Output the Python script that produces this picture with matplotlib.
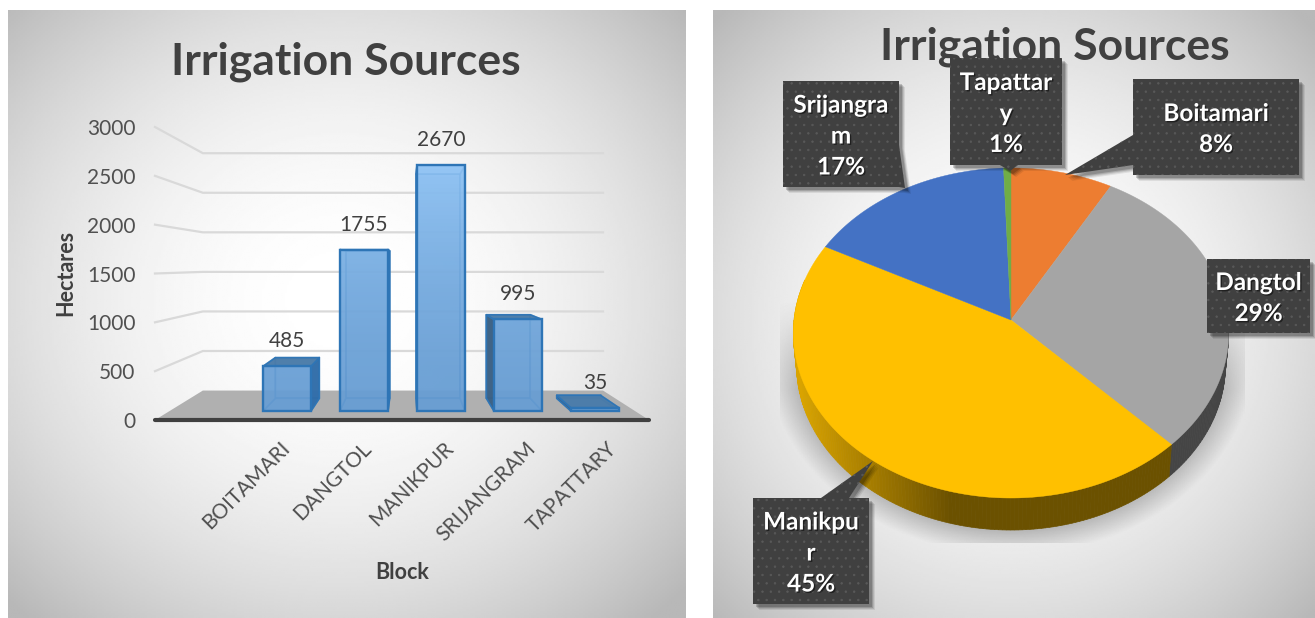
#!/usr/bin/env python

import numpy
import matplotlib
matplotlib.use("Agg")
import matplotlib.pyplot as pyplot
from matplotlib.patches import Polygon
import matplotlib.patheffects as effects


BLOCKS = ["BOITAMARI", "DANGTOL", "MANIKPUR", "SRIJANGRAM", "TAPATTARY"]
HECTARES = [485, 1755, 2670, 995, 35]
Y_TICKS = [0, 500, 1000, 1500, 2000, 2500, 3000]

PIE_NAMES = ["Boitamari", "Dangtol", "Manikpu\nr", "Srijangra\nm", "Tapattar\ny"]
PIE_PERCENT = [8, 29, 45, 17, 1]
PIE_COLORS = ["#ed7d31", "#a5a5a5", "#ffc000", "#4472c4", "#70ad47"]

TITLE = "Irrigation Sources"
W, H = 1315, 618

# Perspective of the column chart, in data units of the tick plane
VP_X, VP_Y = 1.558, 1587.0
K_FRONT, K_BACK, K_WALL = 0.058, 0.14, 0.19
BAR_HALF = 0.312
X_MIN, X_MAX = -1.524, 4.519

# Pie projection, in pixels
PIE_X, PIE_Y = 1011.0, 320.0
PIE_A, PIE_B, PIE_P = 217.0, 164.0, 0.0787
PIE_DEPTH = 32.0

# Callout boxes: x0, y0, x1, y1 and the pointer (base, base, tip)
BOXES = (
    {'box': (1133, 79, 1299, 175), 'ptr': ((1133, 135), (1065, 175), (1133, 165))},
    {'box': (1207, 259, 1310, 333), 'ptr': None},
    {'box': (753, 498, 869, 604), 'ptr': ((821, 498), (873, 461), (849, 498))},
    {'box': (783, 81, 899, 187), 'ptr': ((899, 145), (905, 188), (899, 187))},
    {'box': (950, 58, 1062, 165), 'ptr': ((1000, 165), (1010, 171), (1018, 165))},
)

TEXT = "#404040"
TICK = "#505050"


def panel_gradient(ax, x0, y0, x1, y1, cx, cy, edge):
    xs = numpy.linspace(x0, x1, 300)
    ys = numpy.linspace(y0, y1, 300)
    x2, y2 = numpy.meshgrid(xs, ys)
    r = numpy.hypot((x2-cx)/(0.5*(x1-x0)), (y2-cy)/(0.5*(y1-y0)))
    val = 1.0 - (1.0-edge)*numpy.clip(r/1.4, 0, 1)**2.0
    ax.imshow(val, extent=(x0, x1, y1, y0), cmap="gray", vmin=0, vmax=1, aspect="auto", zorder=0)


def persp(x, y, k):
    return x + k*(VP_X-x), y + k*(VP_Y-y)


def face(ax, pts, color, alpha=1.0, zorder=3):
    ax.add_patch(Polygon(pts, closed=True, facecolor=color, edgecolor="#2e75b6", lw=1.2, alpha=alpha,
                         joinstyle="round", zorder=zorder, clip_on=False))


def column(ax, i, value):
    x0, x1 = i-BAR_HALF, i+BAR_HALF
    f = [persp(x0, 0, K_FRONT), persp(x1, 0, K_FRONT), persp(x1, value, K_FRONT), persp(x0, value, K_FRONT)]
    b = [persp(x0, 0, K_BACK), persp(x1, 0, K_BACK), persp(x1, value, K_BACK), persp(x0, value, K_BACK)]

    # back and bottom are seen through the front
    face(ax, b, "#7fb2e3", 0.6)
    face(ax, [f[0], f[1], b[1], b[0]], "#7fb2e3", 0.6)
    right_out = b[1][0] > f[1][0]
    left_out = b[0][0] < f[0][0]
    top_out = b[2][1] > f[2][1]
    face(ax, [f[1], f[2], b[2], b[1]], "#2f6ca8" if right_out else "#7fb2e3", 0.95 if right_out else 0.5)
    face(ax, [f[0], f[3], b[3], b[0]], "#3a5f82" if left_out else "#7fb2e3", 0.95 if left_out else 0.5)
    face(ax, [f[3], f[2], b[2], b[3]], "#4a7ba8" if top_out else "#9ccbf7", 0.95 if top_out else 0.6)

    # front face, lighter the higher it reaches
    level = value/3000.0
    grad = numpy.linspace(level, 0, 64).reshape(-1, 1)
    c0, c1 = numpy.array([0x66, 0x9c, 0xd2])/255.0, numpy.array([0x96, 0xca, 0xfb])/255.0
    rgb = c0 + (c1-c0)*grad[..., None]**1.5
    ax.imshow(rgb, extent=(f[0][0], f[1][0], f[0][1], f[2][1]), aspect="auto", alpha=0.88, zorder=4)
    ax.bar(0.5*(f[0][0]+f[1][0]), f[2][1]-f[0][1], f[1][0]-f[0][0], bottom=f[0][1], facecolor="none",
           edgecolor="#2e75b6", lw=1.7, zorder=5)
    ax.annotate(str(value), (0.5*(f[2][0]+f[3][0]), f[2][1]), xytext=(0, 18), textcoords="offset points",
                ha="center", va="center", fontsize=15, color=TEXT, zorder=6)


def column_chart(ax):
    ax.set_xlim(X_MIN, X_MAX)
    ax.set_ylim(0, 3000)
    ax.patch.set_visible(False)
    for spine in ax.spines.values():
        spine.set_visible(False)

    for tick in Y_TICKS[1:]:
        back0 = persp(X_MIN, tick, K_WALL)
        back1 = persp(X_MAX, tick, K_WALL)
        ax.plot([X_MIN, back0[0], back1[0]], [tick, back0[1], back1[1]], color="#d9d9d9", lw=1.6, zorder=1, clip_on=False)

    floor = [(X_MIN, 0), (X_MAX, 0), persp(X_MAX, 0, K_WALL), persp(X_MIN, 0, K_WALL)]
    ax.add_patch(Polygon(floor, closed=True, facecolor="#b0b0b0", edgecolor="none", zorder=2))
    ax.plot([X_MIN, X_MAX], [0, 0], color="#404040", lw=3.0, solid_capstyle="round", zorder=2.5, clip_on=False)

    for i, value in enumerate(HECTARES):
        column(ax, i, value)
    ax.set_xlim(X_MIN, X_MAX)
    ax.set_ylim(0, 3000)

    ax.set_yticks(Y_TICKS)
    ax.tick_params(axis="y", length=0, pad=14, labelsize=15, labelcolor=TICK)
    ax.set_xticks(range(len(BLOCKS)))
    ax.set_xticklabels(BLOCKS, rotation=45, ha="right", rotation_mode="anchor")
    ax.tick_params(axis="x", length=0, pad=13, labelsize=15, labelcolor=TICK)
    ax.set_ylabel("Hectares", fontsize=15.5, fontweight="bold", color=TEXT)
    ax.yaxis.set_label_coords((76-155)/494.0, (420-273)/293.0)
    ax.set_xlabel("Block", fontsize=15.5, fontweight="bold", color=TEXT)
    ax.xaxis.set_label_coords((402-155)/494.0, (420-562)/293.0)


def pie_point(theta, depth=0.0):
    u, v = numpy.sin(theta), numpy.cos(theta)
    w = 1.0 + PIE_P*v
    scale = 1.0 - 0.015*depth/PIE_DEPTH
    return PIE_X + scale*PIE_A*u/w, PIE_Y - PIE_B*v/w + depth


def pie_shadow(ax):
    xs = numpy.linspace(780, 1245, 240)
    ys = numpy.linspace(300, 543, 160)
    x2, y2 = numpy.meshgrid(xs, ys)
    r = numpy.hypot((x2-1011)/232.0, (y2-352)/192.0)
    alpha = 0.38*numpy.clip((1.06-r)/0.13, 0, 1)*numpy.clip((y2-300)/90.0, 0, 1)
    rgba = numpy.zeros(x2.shape+(4,))
    rgba[..., :3] = 0.35
    rgba[..., 3] = alpha
    ax.imshow(rgba, extent=(780, 1245, 543, 300), aspect="auto", zorder=1)


def pie_chart(ax):
    pie_shadow(ax)
    fracs = numpy.array(HECTARES, dtype=float)/numpy.sum(HECTARES)
    edges = 2.0*numpy.pi*numpy.concatenate(([0.0], numpy.cumsum(fracs)))

    # rim, only the part facing the viewer
    for i, color in enumerate(PIE_COLORS):
        a0 = max(edges[i], numpy.pi*0.42)
        a1 = min(edges[i+1], numpy.pi*1.58)
        if a1 <= a0:
            continue
        thetas = numpy.linspace(a0, a1, max(int((a1-a0)*60), 2))
        base = numpy.array(matplotlib.colors.to_rgb(color))
        for t0, t1 in zip(thetas[:-1], thetas[1:]):
            px0 = pie_point(t0)
            px1 = pie_point(t1)
            lo0 = pie_point(t0, PIE_DEPTH)
            lo1 = pie_point(t1, PIE_DEPTH)
            shade = 0.85 - 0.43*numpy.clip((0.5*(px0[0]+px1[0])-800)/150.0, 0, 1)
            ax.add_patch(Polygon([px0, px1, lo1, lo0], closed=True, facecolor=base*shade,
                                 edgecolor=base*shade, lw=0.5, zorder=2))

    for i, color in enumerate(PIE_COLORS):
        thetas = numpy.linspace(edges[i], edges[i+1], max(int((edges[i+1]-edges[i])*60), 3))
        pts = [pie_point(t) for t in thetas]
        ax.add_patch(Polygon([(PIE_X, PIE_Y)]+pts, closed=True, facecolor=color, edgecolor=color, lw=0.3, zorder=3))

    for name, percent, item in zip(PIE_NAMES, PIE_PERCENT, BOXES):
        x0, y0, x1, y1 = item['box']
        pts = [(x0, y0), (x1, y0), (x1, y1), (x0, y1)]
        ptr = item['ptr']
        if ptr is not None:
            if ptr[0][1] == ptr[2][1] and ptr[0][1] == y1:
                pts = [(x0, y0), (x1, y0), (x1, y1), ptr[2], ptr[1], ptr[0], (x0, y1)]
            elif ptr[0][1] == ptr[2][1]:
                pts = [(x0, y0), ptr[0], ptr[1], ptr[2], (x1, y0), (x1, y1), (x0, y1)]
            elif ptr[0][0] == x1:
                pts = [(x0, y0), (x1, y0), ptr[0], ptr[1], ptr[2], (x0, y1)]
            else:
                pts = [(x0, y0), (x1, y0), (x1, y1), (x0, y1), ptr[2], ptr[1], ptr[0]]
        for off, a in ((6, 0.08), (5, 0.1), (4, 0.14), (3, 0.18)):
            ax.add_patch(Polygon([(x+off, y+off) for x, y in pts], closed=True, facecolor="black",
                                 edgecolor="none", alpha=a, zorder=5))
        ax.add_patch(Polygon(pts, closed=True, facecolor="#404040", edgecolor="#595959", lw=0, hatch="..", zorder=6))
        label = ax.text(0.5*(x0+x1), 0.5*(y0+y1)+2, "%s\n%d%%" % (name, percent), ha="center", va="center",
                        fontsize=17.5, fontweight="bold", color="white", linespacing=1.42, zorder=7)
        label.set_path_effects([effects.withSimplePatchShadow(offset=(1, -1), shadow_rgbFace="black", alpha=0.5)])


pyplot.rcParams['font.family'] = ['Lato', 'DejaVu Sans']
pyplot.rcParams['hatch.linewidth'] = 0.5

figure = pyplot.figure(figsize=(W/100.0, H/100.0), dpi=100, facecolor="white")

bg = figure.add_axes([0, 0, 1, 1])
bg.set_axis_off()
panel_gradient(bg, 8, 10, 686, 618, 340, 300, 0.72)
panel_gradient(bg, 713, 10, 1315, 618, 1010, 320, 0.72)
bg.set_xlim(0, W)
bg.set_ylim(H, 0)
bg.text(346, 62, TITLE, ha="center", va="center", fontsize=32, fontweight="bold", color=TEXT, zorder=2)
bg.text(1055, 47, TITLE, ha="center", va="center", fontsize=32, fontweight="bold", color=TEXT, zorder=2)
pie_chart(bg)
bg.set_xlim(0, W)
bg.set_ylim(H, 0)

ax = figure.add_axes([155.0/W, 1.0-420.0/H, 494.0/W, 293.0/H])
column_chart(ax)

figure.savefig("out.png", dpi=100)
